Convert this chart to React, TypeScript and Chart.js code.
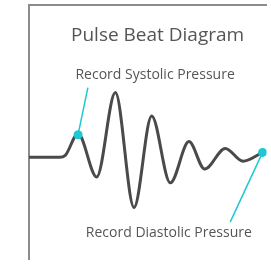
import React, { useEffect, useRef } from "react";
import { Chart, registerables } from "chart.js";

Chart.register(...registerables);

// Pulse waveform: time (arbitrary units) and amplitude relative to the resting baseline
const pulseTime = [0, 31, 37, 50, 69, 88, 107, 125, 144, 163, 179, 200, 218, 238];
const pulseAmplitude = [0, 0, 2, 24, -20, 66, -51, 42, -26, 16, -12, 9, -4, 5];

// Marked recording points
const markerTime = [50, 238];
const markerAmplitude = [23, 5];

// Leader lines from the marker to the label
const systolicLeaderTime = [50, 60];
const systolicLeaderAmplitude = [23, 71];
const diastolicLeaderTime = [238, 205];
const diastolicLeaderAmplitude = [5, -66];

// Texts and their anchor positions (time, amplitude of baseline)
const titleText = "Pulse Beat Diagram";
const titleAnchor = [131, 118];
const labelTexts = ["Record Systolic Pressure", "Record Diastolic Pressure"];
const labelTime = [128.5, 142.5];
const labelAmplitude = [80, -81];

const TEXT_COLOR = "#555555";
const CURVE_COLOR = "#4a4a4a";
const CYAN = "#1ec8d2";
const FONT = '"Open Sans", sans-serif';

const toXY = (xs: number[], ys: number[]) => xs.map((x, i) => ({ x, y: ys[i] }));

const textPlugin = {
  id: "pulseTexts",
  afterDatasetsDraw(chart: any) {
    const { ctx, scales } = chart;
    const sx = scales.x;
    const sy = scales.y;
    ctx.save();
    ctx.fillStyle = TEXT_COLOR;
    ctx.textAlign = "center";
    ctx.textBaseline = "alphabetic";
    ctx.font = `19px ${FONT}`;
    ctx.fillText(titleText, sx.getPixelForValue(titleAnchor[0]), sy.getPixelForValue(titleAnchor[1]));
    ctx.font = `14px ${FONT}`;
    labelTexts.forEach((t, i) => {
      ctx.fillText(t, sx.getPixelForValue(labelTime[i]), sy.getPixelForValue(labelAmplitude[i]));
    });
    ctx.restore();
  },
};

export default function App() {
  const ref = useRef<HTMLCanvasElement | null>(null);
  useEffect(() => {
    document.body.style.margin = "0";
    const canvas = ref.current;
    if (!canvas) return;
    const chart = new Chart(canvas, {
      type: "line",
      data: {
        datasets: [
          {
            data: toXY(markerTime, markerAmplitude),
            showLine: false,
            pointRadius: 4.5,
            pointBackgroundColor: CYAN,
            pointBorderWidth: 0,
            order: 0,
          },
          {
            data: toXY(systolicLeaderTime, systolicLeaderAmplitude),
            borderColor: CYAN,
            borderWidth: 1.5,
            pointRadius: 0,
            tension: 0,
            order: 1,
          },
          {
            data: toXY(diastolicLeaderTime, diastolicLeaderAmplitude),
            borderColor: CYAN,
            borderWidth: 1.5,
            pointRadius: 0,
            tension: 0,
            order: 1,
          },
          {
            data: toXY(pulseTime, pulseAmplitude),
            borderColor: CURVE_COLOR,
            borderWidth: 3,
            pointRadius: 0,
            cubicInterpolationMode: "monotone",
            order: 2,
          },
        ],
      },
      options: {
        animation: false,
        responsive: false,
        events: [],
        layout: { padding: { left: 29, top: 5, right: 0, bottom: 0 } },
        plugins: { legend: { display: false }, tooltip: { enabled: false }, title: { display: false } },
        scales: {
          x: {
            type: "linear",
            position: "top",
            min: 0,
            max: 242,
            grid: { display: false, drawTicks: false, tickLength: 0 },
            border: { display: true, color: "#8c8c8c", width: 2 },
            ticks: { display: false },
          },
          y: {
            type: "linear",
            position: "left",
            min: -104,
            max: 155,
            grid: { display: false, drawTicks: false, tickLength: 0 },
            border: { display: true, color: "#8c8c8c", width: 2 },
            ticks: { display: false },
          },
        },
      },
      plugins: [textPlugin],
    });
    return () => chart.destroy();
  }, []);
  return (
    <div style={{ position: "absolute", left: 0, top: 0, width: 271, height: 264 }}>
      <canvas ref={ref} width={271} height={264} style={{ display: "block", width: 271, height: 264 }} />
    </div>
  );
}
